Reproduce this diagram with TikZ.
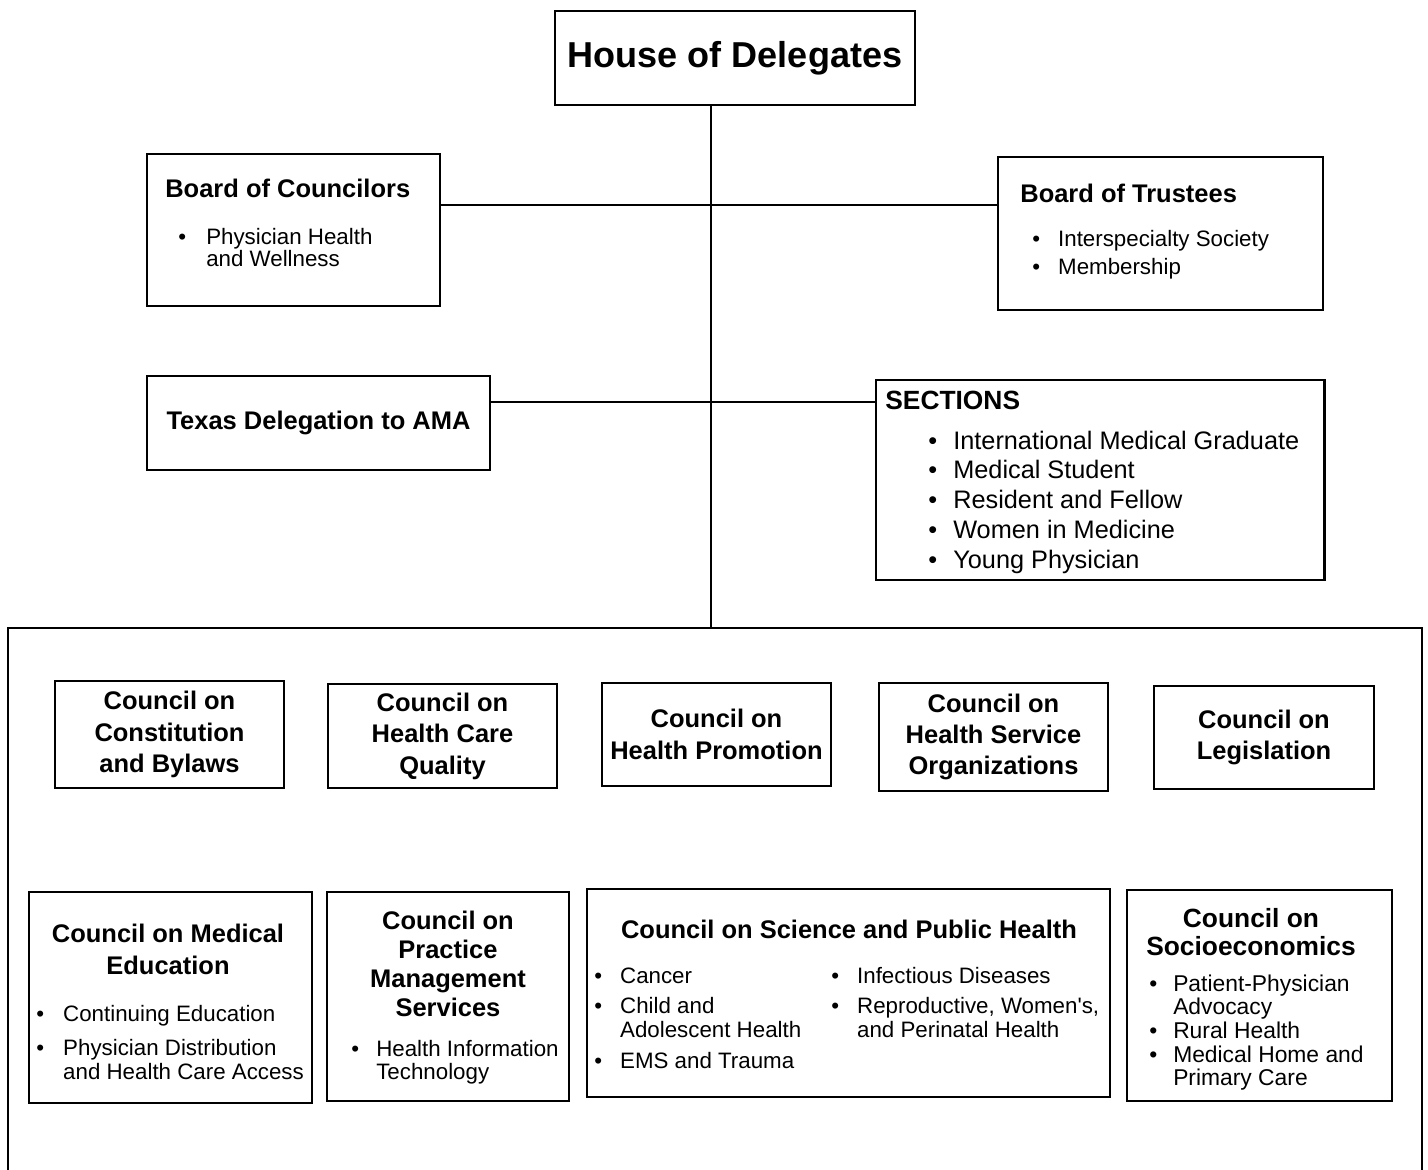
\documentclass[tikz,border=0pt]{standalone}
\usepackage{fontspec}
\setmainfont{Liberation Sans}
\newfontfamily\straightfont{Liberation Sans}
\newcommand\bu[1][15pt]{\makebox[#1][l]{\textbullet}}
\tikzset{
	box/.style={draw, line width=1.1pt, inner sep=0pt},
	sz/.style 2 args={minimum width=#1*0.02cm, minimum height=#2*0.02cm},
	ttl/.style={font=\fontsize{14.5}{17.9}\selectfont\bfseries, align=center, inner sep=0pt},
	lst/.style={font=\fontsize{12.7}{13.6}\selectfont, inner sep=0pt, anchor=base west},
	link/.style={line width=1.4pt}
}
\begin{document}
\begin{tikzpicture}[x=0.02cm, y=-0.02cm]
					\useasboundingbox (0,0) rectangle (1428,1170);
					\coordinate (trunk) at(711,628);
					\coordinate (j1) at(711,205);
					\coordinate (j2) at(711,402);
					% upper part
					\node[box, sz={360}{94}, font=\fontsize{20.5}{24}\selectfont\bfseries] (hod) at(735,58) {House of Delegates};
					\node[box, sz={293}{152}] (boc) at(293.5,230) {};
					\node[box, sz={325}{153}] (bot) at(1160.5,233.5) {};
					\node[box, sz={343}{94}, ttl] (tda) at(318.5,423) {Texas Delegation to AMA};
					\node[box, sz={448}{200}, line width=1.7pt] (sec) at(1100,480) {};
					\node[ttl, anchor=base west] (boct) at(165,197) {Board of Councilors};
					\node[lst, font=\fontsize{12.7}{12.5}\selectfont] (bocl) at(178,244) {\begin{tabular}[t]{@{}l@{}l@{}}\bu[15.9pt] & Physician Health\\ & and Wellness\end{tabular}};
					\node[ttl, anchor=base west] (bott) at(1020,202) {Board of Trustees};
					\node[lst, font=\fontsize{12.7}{16.4}\selectfont] (botl) at(1032,246) {\begin{tabular}[t]{@{}l@{}l@{}}\bu[14.7pt] & Interspecialty Society\\ \bu[14.7pt] & Membership\end{tabular}};
					\node[ttl, font=\fontsize{15}{18}\selectfont\bfseries, anchor=base west] (sect) at(885,409) {SECTIONS};
					\node[lst, font=\fontsize{14.4}{17}\selectfont] (secl) at(928,449) {\begin{tabular}[t]{@{}l@{}l@{}}\bu[14.2pt] & International Medical Graduate\\ \bu[14.2pt] & Medical Student\\ \bu[14.2pt] & Resident and Fellow\\ \bu[14.2pt] & Women in Medicine\\ \bu[14.2pt] & Young Physician\end{tabular}};
					\draw[link, line width=1.7pt] (hod.south -| trunk)--(trunk);
					\draw[link] (boc.east |- j1)--(bot.west |- j1);
					\draw[link] (tda.east |- j2)--(sec.west |- j2);
					% councils
					\draw[line width=1.1pt] (8,1172)--(8,628)--(1422,628)--(1422,1172);
					\node[box, sz={229}{107}, ttl] (cab) at(169.5,734.5) {Council on\\Constitution\\and Bylaws};
					\node[box, sz={229}{104}, ttl] (hcq) at(442.5,736) {Council on\\Health Care\\Quality};
					\node[box, sz={229}{103}, ttl] (hp) at(716.5,734.5) {Council on\\Health Promotion};
					\node[box, sz={229}{108}, ttl] (hso) at(993.5,737) {Council on\\Health Service\\Organizations};
					\node[box, sz={220}{103}, ttl] (leg) at(1264,737.5) {Council on\\Legislation};
					\node[box, sz={283}{211}] (med) at(170.5,997.5) {};
					\node[box, sz={242}{209}] (pms) at(448,996.5) {};
					\node[box, sz={523}{208}] (sph) at(848.5,993) {};
					\node[box, sz={265}{211}] (soc) at(1259.5,995.5) {};
					\node[ttl, font=\fontsize{14.5}{18.1}\selectfont\bfseries] (medt) at(168,949) {Council on Medical\\Education};
					\node[lst] (medl) at(36,1021) {\begin{tabular}[t]{@{}l@{}l@{}}\bu[15.3pt] & Continuing Education\\[6.2pt] \bu[15.3pt] & Physician Distribution\\ & and Health Care Access\end{tabular}};
					\node[ttl, font=\fontsize{14.5}{16.6}\selectfont\bfseries] (pmst) at(448,964) {Council on\\Practice\\Management\\Services};
					\node[lst] (pmsl) at(351,1056) {\begin{tabular}[t]{@{}l@{}l@{}}\bu[14.2pt] & Health Information\\ & Technology\end{tabular}};
					\node[ttl] (spht) at(849,929) {Council on Science and Public Health};
					\node[lst] (sphl) at(594,983) {\begin{tabular}[t]{@{}l@{}l@{}}\bu[14.7pt] & Cancer\\[4pt] \bu[14.7pt] & Child and\\ & Adolescent Health\\[4pt] \bu[14.7pt] & EMS and Trauma\end{tabular}};
					\node[lst] (sphr) at(831,983) {\begin{tabular}[t]{@{}l@{}l@{}}\bu[14.7pt] & Infectious Diseases\\[4pt] \bu[14.7pt] & Reproductive, Women{\straightfont'}s,\\ & and Perinatal Health\end{tabular}};
					\node[ttl, font=\fontsize{15}{15.9}\selectfont\bfseries] (soct) at(1251,932) {Council on\\Socioeconomics};
					\node[lst, font=\fontsize{13}{13.5}\selectfont] (socl) at(1149,991) {\begin{tabular}[t]{@{}l@{}l@{}}\bu[13.6pt] & Patient-Physician\\ & Advocacy\\ \bu[13.6pt] & Rural Health\\ \bu[13.6pt] & Medical Home and\\ & Primary Care\end{tabular}};
				\end{tikzpicture}
\end{document}
